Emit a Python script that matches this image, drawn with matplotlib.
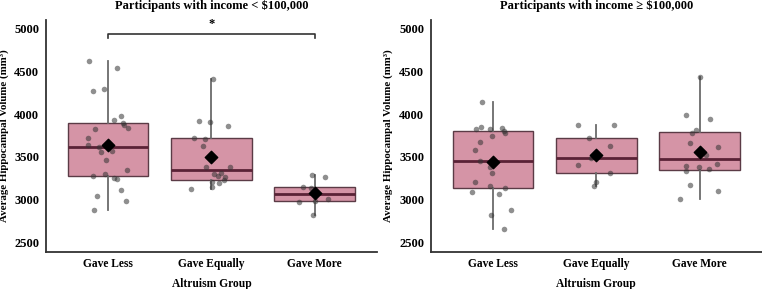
import matplotlib
matplotlib.use("Agg")
import matplotlib.pyplot as plt
import numpy as np

plt.rcParams['font.family'] = ['Liberation Serif', 'DejaVu Serif']
plt.rcParams['font.weight'] = 'bold'

groups = ["Gave Less", "Gave Equally", "Gave More"]

# income < $100,000
low_less = [4624, 4542, 4269, 4300, 3979, 3928, 3900, 3877, 3834, 3830, 3717, 3635, 3615,
            3560, 3572, 3462, 3275, 3295, 3255, 3236, 3342, 3036, 3110, 2978, 2876]
low_less_jit = [-0.18, 0.09, -0.15, -0.04, 0.13, 0.06, 0.14, 0.15, 0.19, -0.13, -0.19, -0.19, -0.09,
                -0.07, 0.04, -0.02, -0.15, -0.03, 0.06, 0.09, 0.18, -0.11, 0.13, 0.17, -0.14]
low_equal = [4410, 3920, 3912, 3862, 3725, 3713, 3623, 3377, 3380, 3306, 3278, 3263, 3208,
             3192, 3224, 3142, 3119, 3300]
low_equal_jit = [0.02, -0.12, -0.01, 0.16, -0.17, -0.06, -0.08, -0.05, 0.18, 0.09, 0.06, 0.13, 0.01,
                 0.07, 0.12, 0.01, -0.20, 0.03]
low_more = [3290, 3259, 3146, 3138, 3060, 2973, 2981, 3005, 2820]
low_more_jit = [-0.03, 0.10, -0.11, -0.04, 0.0, -0.15, 0.0, 0.13, -0.02]

# income >= $100,000
high_less = [4140, 3850, 3823, 3830, 3835, 3807, 3776, 3741, 3670, 3584, 3455, 3377, 3306,
             3200, 3157, 3138, 3091, 3067, 2879, 2817, 2656]
high_less_jit = [-0.11, -0.12, -0.16, -0.03, 0.09, 0.11, 0.12, -0.01, -0.13, -0.17, -0.13, -0.03, -0.01,
                 -0.17, -0.03, 0.12, -0.20, 0.06, 0.17, -0.02, 0.11]
high_equal = [3877, 3877, 3717, 3627, 3486, 3404, 3314, 3208, 3154]
high_equal_jit = [-0.18, 0.17, -0.07, 0.13, -0.05, -0.18, 0.13, 0.0, -0.02]
high_more = [4440, 3994, 3944, 3811, 3779, 3666, 3615, 3521, 3396, 3384, 3333, 3353, 3419,
             3165, 3099, 3005]
high_more_jit = [0, -0.13, 0.10, -0.04, -0.07, -0.09, 0.18, 0.06, -0.13, -0.01, -0.13, 0.09, 0.17,
                 -0.09, 0.18, -0.19]

titles = ["Participants with income < $100,000", "Participants with income \u2265 $100,000"]

box_fill = '#d594a6'
box_edge = '#5b3b46'
median_col = '#5a2236'
whisk_col = '#6b6b6b'


def panel(ax, data, jits, title):
    bp = ax.boxplot(data, positions=range(3), widths=0.78, whis=1.5, patch_artist=True,
                    showfliers=False, showcaps=False, zorder=1,
                    boxprops=dict(facecolor=box_fill, edgecolor=box_edge, linewidth=1.0),
                    medianprops=dict(color=median_col, linewidth=2.0),
                    whiskerprops=dict(color=whisk_col, linewidth=1.3))
    for i, (vals, jit) in enumerate(zip(data, jits)):
        ax.scatter(np.array(jit) + i, vals, s=16, color='#333333', alpha=0.55,
                   linewidths=0, zorder=3)
        ax.scatter([i], [np.mean(vals)], marker='D', s=40, color='black', zorder=4)
    ax.set_xlim(-0.6, 2.6)
    ax.set_ylim(2383, 5106)
    ax.set_yticks([2500, 3000, 3500, 4000, 4500, 5000])
    ax.set_xticks(range(3))
    ax.set_xticklabels(groups)
    ax.tick_params(length=0, pad=5)
    ax.tick_params(axis='x', labelsize=8.3, pad=4)
    ax.tick_params(axis='y', labelsize=9)
    for s in ['top', 'right']:
        ax.spines[s].set_visible(False)
    for s in ['left', 'bottom']:
        ax.spines[s].set_color('#333333')
        ax.spines[s].set_linewidth(1.3)
    ax.set_xlabel("Altruism Group", fontsize=8.3, fontweight='bold', labelpad=6)
    ax.set_ylabel("Average Hippocampal Volume (mm\u00b3)", fontsize=7.8, fontweight='bold', labelpad=4)
    ax.set_title(title, fontsize=9, fontweight='bold', pad=8)


fig = plt.figure(figsize=(7.62, 2.89), dpi=100)
ax1 = fig.add_axes([0.0604, 0.128, 0.434, 0.803])
ax2 = fig.add_axes([0.5656, 0.128, 0.434, 0.803])

panel(ax1, [low_less, low_equal, low_more], [low_less_jit, low_equal_jit, low_more_jit], titles[0])
panel(ax2, [high_less, high_equal, high_more], [high_less_jit, high_equal_jit, high_more_jit], titles[1])

# significance bracket
ax1.plot([0, 0, 2, 2], [4898, 4938, 4938, 4898], color='#333333', linewidth=1.2)
ax1.text(1, 4990, "*", ha='center', va='bottom', fontsize=9, fontweight='bold')

fig.savefig("out.png", dpi=100)
